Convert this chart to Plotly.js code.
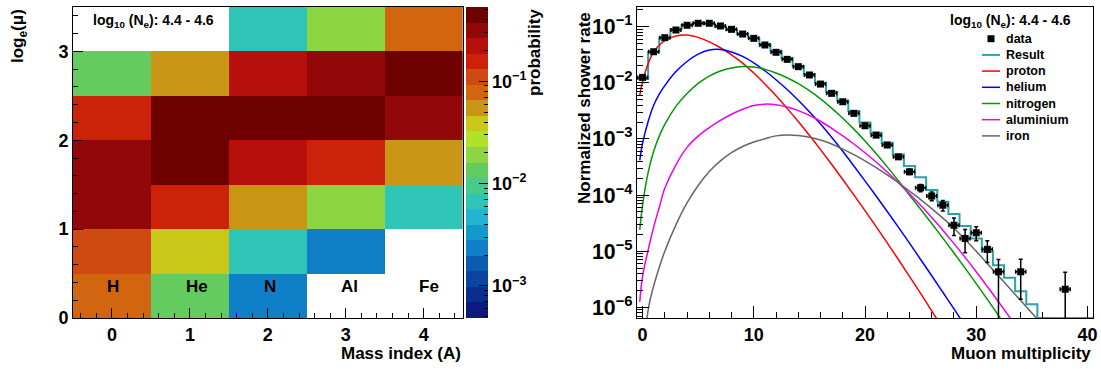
<!DOCTYPE html>
<html><head><meta charset="utf-8">
<script src="https://cdn.plot.ly/plotly-3.0.1.min.js"></script>
<style>html,body{margin:0;padding:0;background:#fff;} #chart{width:1101px;height:369px;}</style>
</head><body><div id="chart"></div>
<script>
// ---------- left panel: probability matrix ----------
const massLabels = ['H', 'He', 'N', 'Al', 'Fe'];
const massIndex = [0, 1, 2, 3, 4];
const logMuBins = [0.25, 0.75, 1.25, 1.75, 2.25, 2.75, 3.25];
const probH  = [0.075, 0.11, 0.31, 0.33, 0.155, 0.0135, null];
const probHe = [0.013, 0.038, 0.15, 0.40, 0.39, 0.052, null];
const probN  = [0.0023, 0.0067, 0.054, 0.22, 0.44, 0.215, 0.0067];
const probAl = [null, 0.0023, 0.019, 0.155, 0.45, 0.33, 0.019];
const probFe = [null, null, 0.0067, 0.055, 0.32, 0.45, 0.078];
const palette = ['#0b1a7d','#0a2d8e','#0c45a0','#0e5cb0','#0f7fc8','#1798cc','#21b5d2','#2fc5b6',
  '#4ac98d','#64cc5e','#8cd642','#b1e12a','#c9c819','#c99515','#d2650f','#cf4a10','#cb2209',
  '#b70f0b','#920808','#6f0000'];
const zLogMin = -3.313, zLogMax = -0.274;
const cbDecades = [-3, -2, -1];

// ---------- right panel: muon multiplicity ----------
const dataX = [0,1,2,3,4,5,6,7,8,9,10,11,12,13,14,15,16,17,18,19,20,21,22,23,24,25,26,27,28,29,30,31,32,34,38];
const dataRate = [0.0125,0.0358,0.0637,0.0873,0.106,0.115,0.115,0.103,0.0898,0.074,0.062,0.0472,0.035,
  0.0262,0.0194,0.0138,0.0095,0.0065,0.0046,0.00286,0.00172,0.00117,0.00078,0.00048,0.00026,0.000135,
  0.000096,0.000066,0.000029,0.0000169,0.0000213,0.0000108,0.0000043,0.0000043,0.0000021];
const dataErrUp = [1.9e-4,3.3e-4,4.4e-4,5.1e-4,5.6e-4,5.9e-4,5.9e-4,5.6e-4,5.2e-4,4.7e-4,4.3e-4,3.8e-4,
  3.2e-4,2.8e-4,2.4e-4,2.0e-4,1.7e-4,1.4e-4,1.2e-4,9.3e-5,7.2e-5,5.9e-5,4.8e-5,3.8e-5,2.8e-5,2.0e-5,
  1.7e-5,1.4e-5,1.0e-5,0.75e-5,0.6e-5,0.45e-5,2.8e-6,2.9e-6,2.1e-6];
const dataErrDown = [1.9e-4,3.3e-4,4.4e-4,5.1e-4,5.6e-4,5.9e-4,5.9e-4,5.6e-4,5.2e-4,4.7e-4,4.3e-4,3.8e-4,
  3.2e-4,2.8e-4,2.4e-4,2.0e-4,1.7e-4,1.4e-4,1.2e-4,9.3e-5,7.2e-5,5.9e-5,4.8e-5,3.8e-5,2.8e-5,2.0e-5,
  1.7e-5,1.4e-5,1.0e-5,0.75e-5,0.6e-5,0.45e-5,4.3e-6,2.9e-6,2.1e-6];
const resultBins = [0,1,2,3,4,5,6,7,8,9,10,11,12,13,14,15,16,17,18,19,20,21,22,23,24,25,26,27,28,29,30,31,32,33,34,35,36,37,38,39,40];
const resultRate = [0.0117,0.0358,0.0637,0.090,0.107,0.115,0.112,0.100,0.087,0.074,0.062,0.0486,0.0373,
  0.0273,0.0200,0.01435,0.0100,0.0069,0.0048,0.00314,0.00197,0.00129,0.000855,0.00053,0.000329,0.000207,
  0.000123,0.000076,0.0000458,0.000028,0.0000169,0.0000098,0.00000565,0.00000336,0.00000194,0.00000113,0,0,0,0,0];
const curveX = [-0.25,0,0.5,1,1.5,2,3,4,5,6,7,8,9,10,11,12,13,14,15,16,17,18,19,20,21,22,23,24,25,26,27,28,29,30,31,32,33,34,35,36];
const protonLog10 = [-2.22,-1.98,-1.66,-1.45,-1.33,-1.25,-1.165,-1.15,-1.19,-1.27,-1.375,-1.50,-1.65,-1.825,
  -2.02,-2.23,-2.455,-2.69,-2.935,-3.19,-3.452,-3.722,-3.997,-4.277,-4.562,-4.852,-5.147,-5.447,-5.752,-6.062,-6.377];
const heliumLog10 = [-3.38,-3.08,-2.69,-2.40,-2.20,-2.05,-1.80,-1.62,-1.49,-1.415,-1.405,-1.45,-1.53,-1.645,
  -1.785,-1.945,-2.12,-2.31,-2.515,-2.735,-2.97,-3.22,-3.482,-3.747,-4.017,-4.292,-4.572,-4.857,-5.147,-5.437,
  -5.732,-6.027,-6.327];
const nitrogenLog10 = [-4.62,-4.18,-3.60,-3.22,-2.95,-2.74,-2.42,-2.19,-2.01,-1.88,-1.79,-1.735,-1.71,-1.72,
  -1.76,-1.825,-1.91,-2.015,-2.14,-2.285,-2.45,-2.63,-2.825,-3.035,-3.26,-3.497,-3.745,-4.002,-4.252,-4.507,
  -4.767,-5.032,-5.302,-5.577,-5.857,-6.142,-6.432];
const aluminiumLog10 = [-5.90,-5.45,-4.98,-4.57,-4.22,-3.88,-3.46,-3.15,-2.95,-2.80,-2.67,-2.56,-2.47,-2.405,
  -2.38,-2.39,-2.43,-2.495,-2.58,-2.685,-2.81,-2.945,-3.09,-3.245,-3.41,-3.59,-3.78,-3.975,-4.18,-4.40,-4.625,
  -4.865,-5.11,-5.365,-5.63,-5.90,-6.175,-6.455];
const ironLog10 = [-8.5,-7.2,-6.05,-5.62,-5.29,-5.00,-4.53,-4.14,-3.83,-3.58,-3.39,-3.245,-3.135,-3.055,-2.995,
  -2.945,-2.93,-2.94,-2.97,-3.02,-3.09,-3.18,-3.28,-3.39,-3.51,-3.64,-3.78,-3.93,-4.08,-4.24,-4.41,-4.59,
  -4.79,-5.0,-5.22,-5.44,-5.66,-5.88,-6.10,-6.32];
const rateLogRange = [-6.19, -0.649];
const legendNames = ['data', 'Result', 'proton', 'helium', 'nitrogen', 'aluminium', 'iron'];
const legendColors = ['#000000', '#2aa3a9', '#ff0000', '#0000ff', '#009900', '#ee00ee', '#666666'];

const FONT = 'Liberation Sans, Arial, Helvetica, sans-serif';
const W = 1101, H = 369;
const px = v => v / W, py = v => 1 - v / H;
const bold = (s) => ({family: FONT, size: s, color: '#000', weight: 'bold'});

// heatmap matrix (rows = log mu bins)
const cols = [probH, probHe, probN, probAl, probFe];
const z = logMuBins.map((_, r) => cols.map(c => c[r] == null ? null : Math.log10(c[r])));
const cscale = [];
palette.forEach((c, i) => { cscale.push([i / palette.length, c]); cscale.push([(i + 1) / palette.length, c]); });

// colour scale key: one cell per palette level, on its own log(probability) axis
const bandStep = (zLogMax - zLogMin) / palette.length;
const keyY = palette.map((_, i) => zLogMin + (i + 0.5) * bandStep);
const keyZ = keyY.map(v => [v]);
const keyMinor = [];
for (let e = -4; e <= -1; e++) for (let m = 2; m <= 9; m++) {
  const v = e + Math.log10(m);
  if (v > zLogMin && v < zLogMax) keyMinor.push(v);
}

const traces = [];
traces.push({type: 'heatmap', x: massIndex, y: logMuBins, z: z, xaxis: 'x', yaxis: 'y',
  zmin: zLogMin, zmax: zLogMax, colorscale: cscale, hoverinfo: 'skip', showscale: false});
traces.push({type: 'heatmap', x: [0.5], y: keyY, z: keyZ, xaxis: 'x3', yaxis: 'y3',
  zmin: zLogMin, zmax: zLogMax, colorscale: cscale, hoverinfo: 'skip', showscale: false});

// result histogram (edges)
const rMin = Math.pow(10, rateLogRange[0]);
const rx = resultBins.map(b => b - 0.5).concat([resultBins[resultBins.length - 1] + 0.5]);
const ryRaw = resultRate.concat([resultRate[resultRate.length - 1]]);
const ry = ryRaw.map(v => Math.max(v, rMin));
traces.push({type: 'scatter', mode: 'lines', x: rx, y: ry, xaxis: 'x2', yaxis: 'y2', name: 'Result',
  line: {color: legendColors[1], width: 2, shape: 'hv'}, hoverinfo: 'skip'});

const curves = [
  ['proton', protonLog10, legendColors[2]],
  ['helium', heliumLog10, legendColors[3]],
  ['nitrogen', nitrogenLog10, legendColors[4]],
  ['aluminium', aluminiumLog10, legendColors[5]],
  ['iron', ironLog10, legendColors[6]]
];
curves.forEach(([name, vals, color]) => {
  traces.push({type: 'scatter', mode: 'lines', name: name, xaxis: 'x2', yaxis: 'y2',
    x: curveX.slice(0, vals.length), y: vals.map(v => Math.pow(10, v)),
    line: {color: color, width: 1.5, shape: 'spline', smoothing: 1}, hoverinfo: 'skip'});
});

traces.push({type: 'scatter', mode: 'markers', name: 'data', x: dataX, y: dataRate, xaxis: 'x2', yaxis: 'y2',
  marker: {symbol: 'square', size: 7, color: '#000'},
  error_y: {type: 'data', symmetric: false, array: dataErrUp, arrayminus: dataErrDown, color: '#000', thickness: 1.5, width: 2},
  error_x: {type: 'constant', value: 0.45, color: '#000', thickness: 1.5, width: 2},
  hoverinfo: 'skip'});

const axBase = {showline: true, mirror: true, linecolor: '#000', linewidth: 1, zeroline: false, showgrid: false,
  ticks: 'inside', tickcolor: '#000', tickwidth: 1, tickfont: bold(18)};

const ann = [];
ann.push({xref: 'paper', yref: 'paper', x: px(19), y: py(36), text: 'log<sub>e</sub>(\u03bc)', textangle: -90,
  showarrow: false, xanchor: 'center', yanchor: 'middle', font: bold(17)});
ann.push({xref: 'paper', yref: 'paper', x: px(462.7), y: py(353), text: 'Mass index (A)', showarrow: false,
  xanchor: 'right', yanchor: 'middle', font: bold(17)});
ann.push({xref: 'paper', yref: 'paper', x: px(534), y: py(53), text: 'probability', textangle: -90,
  showarrow: false, xanchor: 'center', yanchor: 'middle', font: bold(17)});
ann.push({xref: 'paper', yref: 'paper', x: px(584), y: py(108), text: 'Normalized shower rate', textangle: -90,
  showarrow: false, xanchor: 'center', yanchor: 'middle', font: bold(17)});
ann.push({xref: 'paper', yref: 'paper', x: px(1093), y: py(353), text: 'Muon multiplicity', showarrow: false,
  xanchor: 'right', yanchor: 'middle', font: bold(17)});
const neText = 'log<sub>10</sub> (N<sub>e</sub>): 4.4 - 4.6';
ann.push({xref: 'paper', yref: 'paper', x: px(91), y: py(21), text: neText, showarrow: false,
  xanchor: 'left', yanchor: 'middle', font: bold(14)});
ann.push({xref: 'paper', yref: 'paper', x: px(948), y: py(21), text: neText, showarrow: false,
  xanchor: 'left', yanchor: 'middle', font: bold(14)});
const labelShift = [1, 7, 2, 4, 5];
massLabels.forEach((lab, i) => ann.push({xref: 'x', yref: 'y', x: massIndex[i], y: 0.36, xshift: labelShift[i],
  text: lab, showarrow: false, xanchor: 'center', yanchor: 'middle', font: bold(17)}));

// legend (drawn as key swatches + labels)
const shapes = [];
legendNames.forEach((name, i) => {
  const yc = 38.7 + 16.2 * i;
  if (i === 0) {
    shapes.push({type: 'rect', xref: 'paper', yref: 'paper', x0: px(987.5), x1: px(994.5), y0: py(yc + 3.5), y1: py(yc - 3.5),
      fillcolor: '#000', line: {width: 0}});
  } else {
    shapes.push({type: 'line', xref: 'paper', yref: 'paper', x0: px(982), x1: px(1000), y0: py(yc), y1: py(yc),
      line: {color: legendColors[i], width: i === 1 ? 2 : 1.5}});
  }
  ann.push({xref: 'paper', yref: 'paper', x: px(1004), y: py(yc), text: name, showarrow: false,
    xanchor: 'left', yanchor: 'middle', font: bold(12.5)});
});

const yDom = [1 - 318 / H, 1 - 7 / H];
const layout = {
  width: W, height: H, margin: {l: 0, r: 0, t: 0, b: 0}, paper_bgcolor: '#fff', plot_bgcolor: 'rgba(0,0,0,0)',
  font: {family: FONT, color: '#000'}, showlegend: false,
  xaxis: Object.assign({}, axBase, {domain: [px(73), px(462.7)], range: [-0.5, 4.5], tickmode: 'linear', tick0: 0, dtick: 1,
    ticklen: 10, minor: {ticks: 'inside', dtick: 0.2, tick0: 0, ticklen: 5, tickcolor: '#000'}, anchor: 'y'}),
  yaxis: Object.assign({}, axBase, {domain: yDom, range: [0, 3.5], tickmode: 'linear', tick0: 0, dtick: 1,
    ticklen: 10, minor: {ticks: 'inside', dtick: 0.2, tick0: 0, ticklen: 5, tickcolor: '#000'}, anchor: 'x'}),
  xaxis2: Object.assign({}, axBase, {domain: [px(637), px(1093)], range: [-0.5, 40.5], tickmode: 'linear', tick0: 0, dtick: 10,
    ticklen: 12, minor: {ticks: 'inside', dtick: 2, tick0: 0, ticklen: 6, tickcolor: '#000'}, anchor: 'y2'}),
  yaxis2: Object.assign({}, axBase, {domain: yDom, type: 'log', range: rateLogRange, dtick: 1,
    exponentformat: 'power', ticklen: 12, ticklabelstandoff: 0, tickfont: bold(17),
    minor: {ticks: 'inside', dtick: 'D1', ticklen: 6, tickcolor: '#000'}, anchor: 'x2'}),
  xaxis3: {domain: [px(466), px(488)], range: [0, 1], visible: false, anchor: 'y3', fixedrange: true},
  yaxis3: {domain: yDom, range: [zLogMin, zLogMax], anchor: 'x3', side: 'right',
    tickmode: 'array', tickvals: cbDecades, ticktext: cbDecades.map(e => '10<sup>\u2212' + (-e) + '</sup>'),
    tickfont: bold(18), ticklabelstandoff: 3, showline: false, showgrid: false, zeroline: false,
    ticks: 'inside', ticklen: 9, tickcolor: '#000', tickwidth: 1,
    minor: {ticks: 'inside', tickmode: 'array', tickvals: keyMinor, ticklen: 4, tickcolor: '#000', showgrid: false}},
  annotations: ann, shapes: shapes
};

Plotly.newPlot('chart', traces, layout, {displayModeBar: false, staticPlot: true});
</script></body></html>
